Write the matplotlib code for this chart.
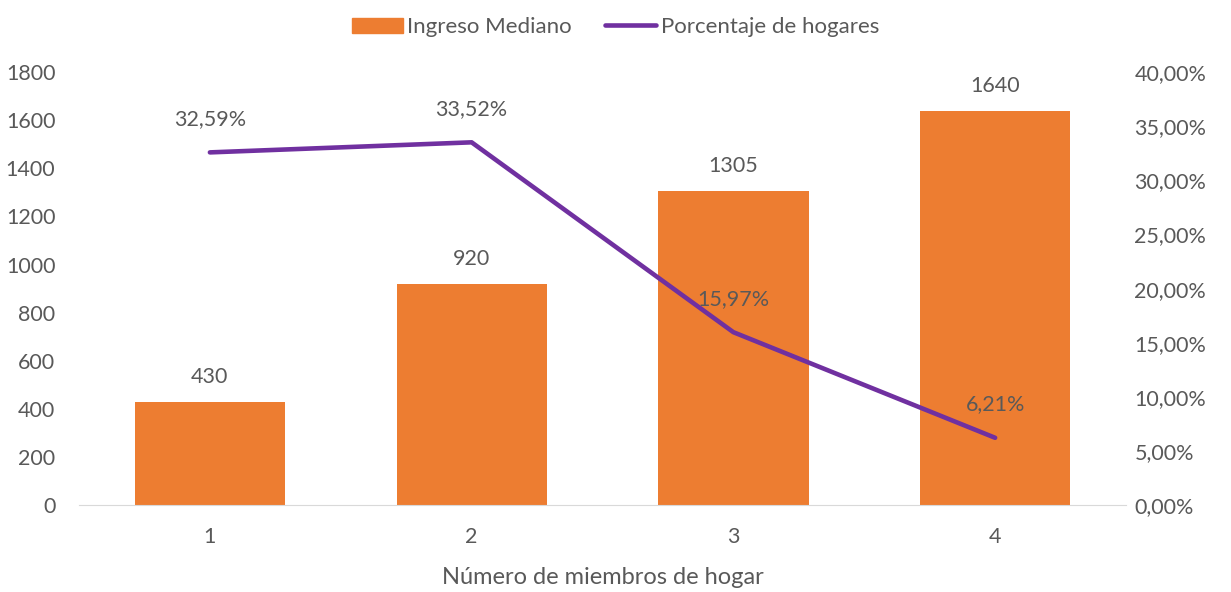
import numpy as np
import matplotlib.pyplot as plt
from matplotlib.patches import Patch
from matplotlib.lines import Line2D

# datos
categorias = ['1', '2', '3', '4']
ingreso = [430, 920, 1305, 1640]
porcentaje = [32.59, 33.52, 15.97, 6.21]

naranja = '#ED7D31'
morado = '#7030A0'
gris = '#595959'

plt.rcParams['font.family'] = ['Lato', 'DejaVu Sans']

fig = plt.figure(figsize=(12.31, 5.92), dpi=100)
ax = fig.add_axes([0.0642, 0.147, 0.8505, 0.731])
ax2 = ax.twinx()

x = np.arange(len(categorias))
ax.bar(x, ingreso, width=0.574, color=naranja, zorder=2)
ax.set_xlim(-0.5, 3.5)
ax.set_ylim(0, 1800)
ax.set_yticks(np.arange(0, 1801, 200))
ax.set_xticks(x)
ax.set_xticklabels(categorias)

for xi, v in zip(x, ingreso):
    ax.annotate(str(v), (xi, v), xytext=(0, 18), textcoords='offset points',
                ha='center', va='center', fontsize=15.5, color=gris)

ax2.plot(x, porcentaje, color=morado, linewidth=3.3, solid_capstyle='round', zorder=3)
ax2.set_ylim(0, 40)
ax2.set_yticks(np.arange(0, 40.1, 5))
ax2.set_yticklabels([f'{t:.2f}%'.replace('.', ',') for t in np.arange(0, 40.1, 5)])

for xi, p in zip(x, porcentaje):
    ax2.annotate(f'{p:.2f}%'.replace('.', ','), (xi, p), xytext=(0, 24),
                 textcoords='offset points', ha='center', va='center',
                 fontsize=15.5, color=gris)

for a in (ax, ax2):
    for s in a.spines.values():
        s.set_visible(False)
    a.tick_params(length=0, labelsize=15.5, colors=gris)
ax.spines['bottom'].set_visible(True)
ax.spines['bottom'].set_color('#D9D9D9')
ax.tick_params(axis='y', pad=17)
ax.tick_params(axis='x', pad=16)
ax2.tick_params(axis='y', pad=6)

ax.set_xlabel('Número de miembros de hogar', fontsize=17, color=gris, labelpad=14)

handles = [Patch(color=naranja, label='Ingreso Mediano'),
           Line2D([0], [0], color=morado, linewidth=3.3, solid_capstyle='round',
                  label='Porcentaje de hogares')]
fig.legend(handles=handles, loc='upper center', bbox_to_anchor=(0.5, 1.005), ncol=2,
           frameon=False, fontsize=16, labelcolor=gris, handlelength=2.3,
           handleheight=0.65, handletextpad=0.2, columnspacing=1.5)

fig.savefig('out.png', dpi=100)
